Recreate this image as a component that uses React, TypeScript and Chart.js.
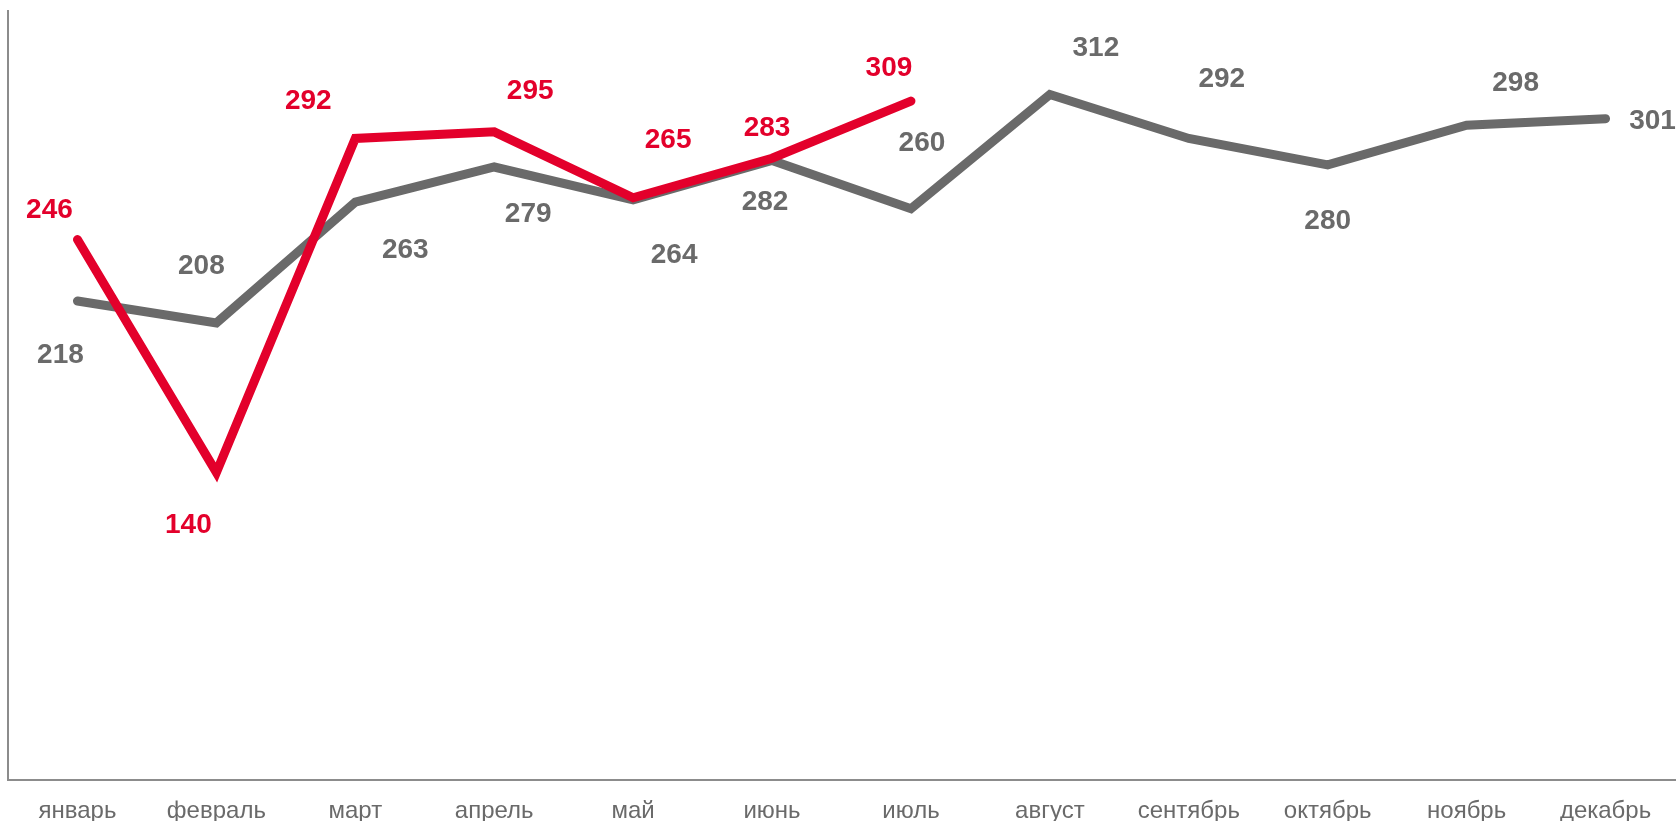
import React, { useEffect, useRef } from "react";
import { Chart, registerables } from "chart.js";

Chart.register(...registerables);

const months = ["январь", "февраль", "март", "апрель", "май", "июнь", "июль", "август", "сентябрь", "октябрь", "ноябрь", "декабрь"];
const currentYear = [246, 140, 292, 295, 265, 283, 309];
const previousYear = [218, 208, 263, 279, 264, 282, 260, 312, 292, 280, 298, 301];

// label offsets (px) relative to each point: [dx, dy]
const redLabelOffsets = [[-28, -29], [-28, 53], [-47, -37], [36, -41], [35, -57], [-5, -30], [-22, -33]];
const grayLabelOffsets = [[-17, 54], [-15, -57], [50, 48], [34, 47], [41, 55], [-7, 42], [11, -65], [46, -46], [33, -59], [0, 56], [49, -42], [47, 3]];

const RED = "#E3002B";
const GRAY = "#6A6A6A";

const labelPlugin = {
  id: "pointLabels",
  afterDatasetsDraw(chart: any) {
    const ctx = chart.ctx;
    ctx.save();
    ctx.font = "bold 28px 'Liberation Sans', Arial, sans-serif";
    ctx.textAlign = "center";
    ctx.textBaseline = "middle";
    chart.data.datasets.forEach((ds: any, di: number) => {
      const meta = chart.getDatasetMeta(di);
      const offs = ds.labelOffsets as number[][];
      meta.data.forEach((pt: any, i: number) => {
        const v = ds.data[i];
        if (v == null) return;
        const o = offs[i] || [0, -30];
        ctx.fillStyle = ds.borderColor;
        ctx.fillText(String(v), pt.x + o[0], pt.y + o[1]);
      });
    });
    ctx.restore();
  },
};

export default function App() {
  const ref = useRef<HTMLCanvasElement>(null);
  useEffect(() => {
    document.body.style.margin = "0";
    const chart = new Chart(ref.current!, {
      type: "line",
      data: {
        labels: months,
        datasets: [
          {
            label: "current",
            data: currentYear,
            borderColor: RED,
            borderWidth: 9,
            pointRadius: 0,
            borderCapStyle: "round",
            borderJoinStyle: "miter",
            tension: 0,
            labelOffsets: redLabelOffsets,
          } as any,
          {
            label: "previous",
            data: previousYear,
            borderColor: GRAY,
            borderWidth: 9,
            pointRadius: 0,
            borderCapStyle: "round",
            borderJoinStyle: "miter",
            tension: 0,
            labelOffsets: grayLabelOffsets,
          } as any,
        ],
      },
      options: {
        animation: false,
        responsive: false,
        maintainAspectRatio: false,
        layout: { padding: { left: 8, top: 11, right: 3, bottom: 0 } },
        plugins: { legend: { display: false }, tooltip: { enabled: false } },
        scales: {
          x: {
            offset: true,
            grid: { display: false, drawTicks: false },
            border: { display: true, color: "#8C8C8C", width: 2 },
            ticks: {
              color: "#6A6A6A",
              font: { size: 24, family: "'Liberation Sans', Arial, sans-serif" },
              padding: 17,
              maxRotation: 0,
              autoSkip: false,
            },
            afterFit(scale: any) {
              scale.height = 41;
            },
          },
          y: {
            min: 0,
            max: 350,
            grid: { display: false, drawTicks: false },
            border: { display: true, color: "#8C8C8C", width: 2 },
            ticks: { display: false },
            afterFit(scale: any) {
              scale.width = 0;
            },
          },
        },
      },
      plugins: [labelPlugin],
    });
    return () => chart.destroy();
  }, []);
  return (
    <div style={{ position: "absolute", left: 0, top: 0, width: 1678, height: 821, background: "#fff" }}>
      <canvas ref={ref} width={1678} height={821} style={{ width: 1678, height: 821 }} />
    </div>
  );
}
